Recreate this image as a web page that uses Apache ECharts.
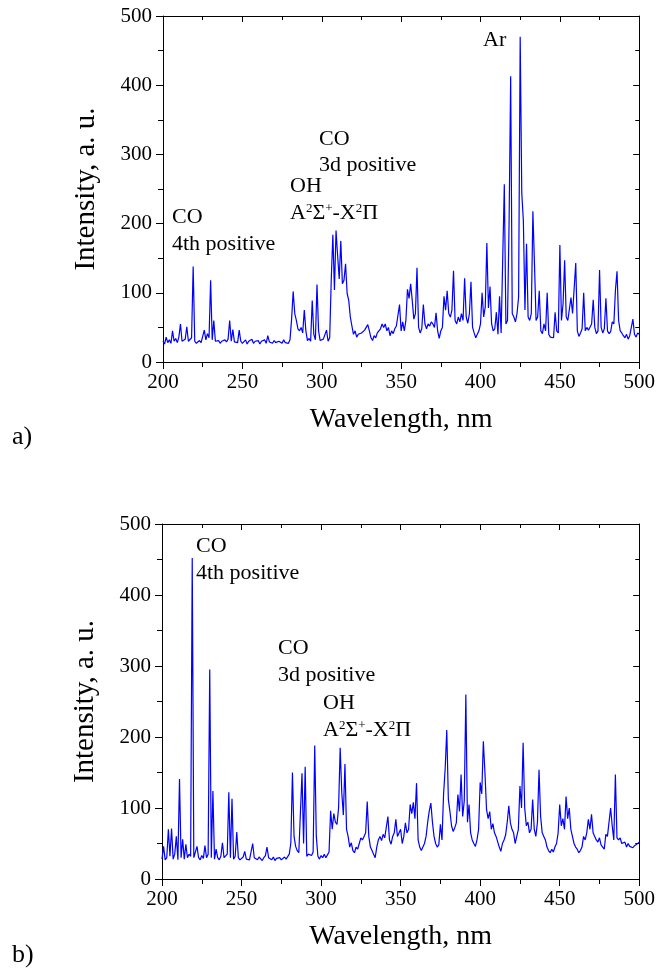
<!DOCTYPE html>
<html>
<head>
<meta charset="utf-8">
<style>
html,body{margin:0;padding:0;background:#fff;}
#chart{width:658px;height:969px;}
</style>
<script src="https://cdn.jsdelivr.net/npm/echarts@6/dist/echarts.min.js"></script>
</head>
<body>
<div id="chart"></div>
<script>
// Wavelength grid of the spectra (nm): start and step
const wlStart = 200;
const wlStep = 1;

// Panel a) intensity, a.u., 200..500 nm
const intensityA = [
30,26,36,28,32,27,45,30,34,28,
36,55,30,28,33,51,30,28,35,138,
30,27,29,31,28,30,46,32,41,35,
118,32,60,30,28,31,27,30,28,32,
29,33,60,30,47,29,31,28,46,30,
27,29,32,26,30,28,33,27,30,29,
31,26,30,28,32,27,38,29,30,27,
31,28,26,30,29,27,32,28,30,27,
32,62,102,70,60,48,45,50,42,75,
45,31,34,30,89,40,32,112,45,31,
30,33,32,46,30,35,120,184,104,190,
154,120,175,113,118,142,99,89,65,52,
40,45,36,40,38,42,40,46,50,54,
45,35,31,38,35,42,40,48,55,50,
55,45,50,38,45,41,48,52,50,83,
45,58,45,60,105,92,113,89,62,70,
136,50,42,48,83,55,48,55,52,58,
55,50,71,45,34,45,50,95,75,103,
70,65,75,132,60,55,65,58,70,60,
121,65,56,70,116,50,42,35,40,45,
55,100,65,80,172,78,109,55,45,48,
72,40,95,42,40,257,55,60,200,413,
70,65,58,70,94,470,244,204,75,171,
65,60,70,218,142,60,65,103,45,41,
55,45,100,40,36,38,35,72,45,42,
169,60,84,147,65,60,58,93,70,70,
143,45,37,42,48,100,45,50,46,48,
55,90,50,41,45,133,50,42,48,92,
45,41,44,58,55,104,131,60,45,42,
38,35,40,33,38,36,62,40,36,42,
40
];

// Panel b) intensity, a.u., 200..500 nm
const intensityB = [
28,46,27,30,70,32,71,28,35,60,
27,141,30,56,28,49,30,35,32,452,
30,28,46,30,27,33,29,47,30,35,
295,30,124,28,42,30,27,32,51,30,
28,35,122,30,113,28,32,66,30,27,
29,31,39,28,30,27,29,50,30,28,
27,31,29,26,30,33,45,30,28,27,
31,26,29,28,30,27,29,31,28,30,
35,51,150,60,46,40,37,38,149,50,
158,32,35,37,33,38,188,60,32,28,
33,30,35,30,34,38,96,70,92,80,
77,100,185,122,90,162,70,60,45,51,
40,37,45,42,50,58,55,60,65,109,
60,45,40,35,30,45,55,60,54,63,
58,60,88,55,49,60,65,84,60,58,
70,50,60,79,65,70,105,92,108,85,
135,55,45,40,45,50,60,80,96,107,
80,60,50,45,48,77,55,120,155,210,
112,95,75,67,72,79,119,95,147,88,
110,260,80,105,65,55,50,46,55,70,
136,120,194,150,98,85,95,70,78,65,
60,58,45,39,50,55,62,80,103,79,
70,65,50,60,70,131,100,192,100,75,
80,65,70,112,70,60,80,154,88,65,
60,55,45,40,37,42,38,45,50,65,
105,75,85,70,116,85,100,70,60,50,
45,42,37,40,45,60,55,65,84,70,
91,65,60,55,52,58,48,45,42,63,
60,60,100,75,55,147,58,55,58,50,
48,52,45,50,46,48,44,47,45,50,
52
];

// Axis settings
const xMin = 200, xMax = 500, xStep = 50;
const yMin = 0, yMax = 500, yStep = 100;
const xTitle = 'Wavelength, nm';
const yTitle = 'Intensity, a. u.';

const FONT = '"Liberation Serif", "Times New Roman", serif';

function toPairs(vals){
  return vals.map((v,i)=>[wlStart + i*wlStep, v]);
}

const chart = echarts.init(document.getElementById('chart'), null, {renderer:'canvas'});

const grids = [
  {left:163, top:16, width:478, height:346},
  {left:162, top:524, width:482, height:355}
];

function mainX(g){
  return {
    gridIndex:g, type:'value', min:xMin, max:xMax, interval:xStep, position:'bottom',
    axisLine:{show:true, onZero:false, lineStyle:{color:'#000', width:1}},
    axisTick:{show:true, inside:false, length:7, lineStyle:{color:'#000', width:1}},
    minorTick:{show:true, splitNumber:2, length:5, lineStyle:{color:'#000', width:1}},
    splitLine:{show:false},
    axisLabel:{fontFamily:FONT, fontSize:21, color:'#000', margin:10},
    name:xTitle, nameLocation:'middle', nameGap:44,
    nameTextStyle:{fontFamily:FONT, fontSize:28, color:'#000'}
  };
}
function topX(g){
  return {
    gridIndex:g, type:'value', min:xMin, max:xMax, interval:xStep, position:'top',
    axisLine:{show:true, onZero:false, lineStyle:{color:'#000', width:1}},
    axisTick:{show:true, inside:true, length:6, lineStyle:{color:'#000', width:1}},
    minorTick:{show:true, splitNumber:2, length:4, lineStyle:{color:'#000', width:1}},
    splitLine:{show:false}, axisLabel:{show:false}
  };
}
function mainY(g){
  return {
    gridIndex:g, type:'value', min:yMin, max:yMax, interval:yStep, position:'left',
    axisLine:{show:true, onZero:false, lineStyle:{color:'#000', width:1}},
    axisTick:{show:true, inside:false, length:7, lineStyle:{color:'#000', width:1}},
    minorTick:{show:true, splitNumber:2, length:5, lineStyle:{color:'#000', width:1}},
    splitLine:{show:false},
    axisLabel:{fontFamily:FONT, fontSize:21, color:'#000', margin:11},
    name:yTitle, nameLocation:'middle', nameGap:62, nameRotate:90,
    nameTextStyle:{fontFamily:FONT, fontSize:29, color:'#000'}
  };
}
function rightY(g){
  return {
    gridIndex:g, type:'value', min:yMin, max:yMax, interval:yStep, position:'right',
    axisLine:{show:true, onZero:false, lineStyle:{color:'#000', width:1}},
    axisTick:{show:true, inside:true, length:6, lineStyle:{color:'#000', width:1}},
    minorTick:{show:true, splitNumber:2, length:4, lineStyle:{color:'#000', width:1}},
    splitLine:{show:false}, axisLabel:{show:false}
  };
}

const richFormula = {
  n:{fontFamily:FONT, fontSize:22, fill:'#000'},
  s:{fontFamily:FONT, fontSize:13, fill:'#000', verticalAlign:'top', padding:[0,0,6,0]}
};
const formulaText = '{n|A}{s|2}{n|Σ}{s|+}{n|-X}{s|2}{n|Π}';

function label(x, y, t, size){
  return {type:'text', left:x, top:y, z:100,
    style:{text:t, font:(size||22)+'px ' + FONT, fill:'#000'}};
}
function formula(x, y){
  return {type:'text', left:x, top:y, z:100,
    style:{text:formulaText, rich:richFormula, font:'22px ' + FONT, fill:'#000'}};
}

const option = {
  animation:false,
  backgroundColor:'#fff',
  grid: grids,
  xAxis:[mainX(0), topX(0), mainX(1), topX(1)],
  yAxis:[mainY(0), rightY(0), mainY(1), rightY(1)],
  series:[
    {type:'line', xAxisIndex:0, yAxisIndex:0, data:toPairs(intensityA), showSymbol:false,
     lineStyle:{color:'#0000ff', width:1.2}, itemStyle:{color:'#0000ff'}},
    {type:'line', xAxisIndex:2, yAxisIndex:2, data:toPairs(intensityB), showSymbol:false,
     lineStyle:{color:'#0000ff', width:1.2}, itemStyle:{color:'#0000ff'}}
  ],
  graphic:[
    label(172, 206, 'CO'),
    label(172, 233, '4th positive'),
    label(290, 175, 'OH'),
    formula(290, 202),
    label(319, 128, 'CO'),
    label(319, 154, '3d positive'),
    label(483, 29, 'Ar'),
    label(196, 535, 'CO'),
    label(196, 562, '4th positive'),
    label(278, 637, 'CO'),
    label(278, 664, '3d positive'),
    label(323, 692, 'OH'),
    formula(323, 719),
    label(12, 424, 'a)', 26),
    label(12, 942, 'b)', 26)
  ]
};
chart.setOption(option);
</script>
</body>
</html>
